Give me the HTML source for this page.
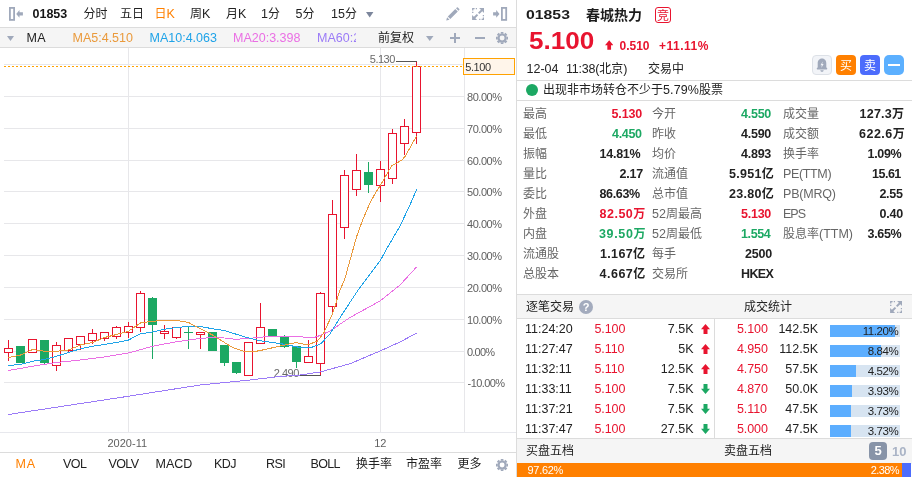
<!DOCTYPE html>
<html lang="zh-CN">
<head>
<meta charset="utf-8">
<title>01853 春城热力</title>
<style>
*{box-sizing:border-box;margin:0;padding:0}
html,body{width:912px;height:477px;overflow:hidden;background:#fff}
body{font-family:"Liberation Sans","Noto Sans CJK SC",sans-serif;font-size:12.5px;color:#333;position:relative}
.a{position:absolute;white-space:nowrap;line-height:1;display:block}
i{font-style:normal}
#left{position:absolute;left:0;top:0;width:517px;height:477px;border-right:1px solid #dcdcdc;overflow:hidden}
#right{position:absolute;left:517px;top:0;width:395px;height:477px;overflow:hidden}
.tb{position:absolute;left:0;top:27px;width:516px;height:21px;background:#f5f5f5;border-top:1px solid #dcdcdc;border-bottom:1px solid #dcdcdc}
.dt{position:absolute;left:0;top:432px;width:516px;height:21px;border-top:1px solid #e7e8ed;border-bottom:1px solid #dcdcdc}
svg text{font-family:"Liberation Sans","Noto Sans CJK SC",sans-serif}
.red{color:#e8142f}
.grn{color:#1ca863}
.b{font-weight:bold}
.c{font-size:12px;letter-spacing:0}
.k{color:#666}
.v{font-weight:bold;color:#222}
.v.red{color:#e8142f}
.v.grn{color:#1ca863}
.hl{position:absolute;left:0;width:395px;height:1px;background:#dcdcdc}
</style>
</head>
<body>
<div id="left">
<svg class="a" style="left:9px;top:7px" width="15" height="14" viewBox="0 0 15 14"><rect x="0.9" y="0.9" width="4.2" height="12" fill="none" stroke="#a0a9bb" stroke-width="1.8"/><path d="M7.2 6.9 L10.5 3 V5.3 H13.9 V8.5 H10.5 V10.8 Z" fill="#a0a9bb"/></svg>
<span class="a b" style="left:32.5px;top:7.5px;color:#151515">01853</span>
<span class="a " style="left:83.5px;top:7.5px;color:#222"><span class="c">分时</span></span>
<span class="a " style="left:120px;top:7.5px;color:#222"><span class="c">五日</span></span>
<span class="a " style="left:154.5px;top:7.5px;color:#ff8000"><span class="c">日</span>K</span>
<span class="a " style="left:190px;top:7.5px;color:#222"><span class="c">周</span>K</span>
<span class="a " style="left:226px;top:7.5px;color:#222"><span class="c">月</span>K</span>
<span class="a " style="left:261px;top:7.5px;color:#222">1<span class="c">分</span></span>
<span class="a " style="left:295.5px;top:7.5px;color:#222">5<span class="c">分</span></span>
<span class="a " style="left:331px;top:7.5px;color:#222">15<span class="c">分</span></span>
<svg class="a" style="left:366px;top:11.5px" width="8" height="6" viewBox="0 0 8 6"><path d="M0 0 H7.4 L3.7 5.6 Z" fill="#7c869c"/></svg>
<svg class="a" style="left:446px;top:7px" width="14" height="14" viewBox="0 0 14 14"><path d="M0.2 13.6 L1.1 10.3 L3.5 12.7 Z M1.8 9.5 L9.3 2 L11.8 4.5 L4.3 12 Z M10 1.3 L10.9 0.4 Q11.4 0 11.9 0.5 L13.3 1.9 Q13.7 2.4 13.3 2.9 L12.4 3.8 Z" fill="#a0a9bb"/></svg>
<svg class="a" style="left:472px;top:8px" width="12.2" height="12" viewBox="0 0 12 12"><g fill="none" stroke="#a0a9bb" stroke-width="1.3"><path d="M0.65 4.9 V3.7 M0.65 2.5 V0.65 H2.5 M3.7 0.65 H4.9"/><path d="M11.35 7.1 V8.3 M11.35 9.5 V11.35 H9.5 M8.3 11.35 H7.1"/></g><path d="M7 0 H12 V5 Z M5 12 H0 V7 Z" fill="#a0a9bb"/><path d="M10 2 L6.6 5.4 M2 10 L5.4 6.6" stroke="#a0a9bb" stroke-width="2" fill="none"/></svg>
<svg class="a" style="left:493px;top:7px" width="15" height="14" viewBox="0 0 15 14"><rect x="8.9" y="0.9" width="4.3" height="12" fill="none" stroke="#a0a9bb" stroke-width="1.8"/><path d="M6.5 6.9 L3.2 3 V5.3 H0.1 V8.5 H3.2 V10.8 Z" fill="#a0a9bb"/></svg>
<div class="tb"></div>
<svg class="a" style="left:6.5px;top:35.5px" width="8" height="6" viewBox="0 0 8 6"><path d="M0 0 H7 L3.5 5 Z" fill="#a0a9bb"/></svg>
<span class="a " style="left:26.5px;top:31.5px;color:#222;letter-spacing:0.3px">MA</span>
<span class="a " style="left:72.5px;top:31.5px;color:#ea9a3c">MA5:4.510</span>
<span class="a " style="left:149.5px;top:31.5px;color:#1fa3e8">MA10:4.063</span>
<span class="a " style="left:233px;top:31.5px;color:#ea6fe4">MA20:3.398</span>
<span class="a " style="left:317px;top:31.5px;color:#9b7bf7;width:38.7px;overflow:hidden;height:14px">MA60:2.846</span>
<span class="a " style="left:378px;top:31.5px;color:#222"><span class="c">前复权</span></span>
<svg class="a" style="left:425.5px;top:35.5px" width="8" height="6" viewBox="0 0 8 6"><path d="M0 0 H7.5 L3.75 5 Z" fill="#a0a9bb"/></svg>
<svg class="a" style="left:450px;top:33px" width="10" height="10" viewBox="0 0 10 10"><path d="M0 5 H10 M5 0 V10" stroke="#a0a9bb" stroke-width="2" fill="none"/></svg>
<svg class="a" style="left:475px;top:33px" width="10" height="10" viewBox="0 0 10 10"><path d="M0 5 H10" stroke="#a0a9bb" stroke-width="2" fill="none"/></svg>
<svg class="a" style="left:496px;top:32px" width="12.2" height="12.2" viewBox="0 0 14 14"><circle cx="7" cy="7" r="4.1" fill="none" stroke="#a0a9bb" stroke-width="2.5"/><g stroke="#a0a9bb" stroke-width="3"><path d="M7 0 V2 M7 12 V14 M0 7 H2 M12 7 H14 M2.05 2.05 L3.5 3.5 M10.5 10.5 L11.95 11.95 M2.05 11.95 L3.5 10.5 M10.5 3.5 L11.95 2.05"/></g></svg>
<svg width="516" height="386" viewBox="0 47 516 386" style="position:absolute;left:0;top:47px">
<g stroke="#e7e7ea" shape-rendering="crispEdges">
<line x1="4" x2="464" y1="64.5" y2="64.5"/>
<line x1="4" x2="464" y1="96.5" y2="96.5"/>
<line x1="4" x2="464" y1="128.5" y2="128.5"/>
<line x1="4" x2="464" y1="160.5" y2="160.5"/>
<line x1="4" x2="464" y1="191.5" y2="191.5"/>
<line x1="4" x2="464" y1="223.5" y2="223.5"/>
<line x1="4" x2="464" y1="255.5" y2="255.5"/>
<line x1="4" x2="464" y1="287.5" y2="287.5"/>
<line x1="4" x2="464" y1="319.5" y2="319.5"/>
<line x1="4" x2="464" y1="351.5" y2="351.5"/>
<line x1="4" x2="464" y1="382.5" y2="382.5"/>
<line x1="128.5" x2="128.5" y1="48" y2="432"/>
<line x1="380.5" x2="380.5" y1="48" y2="432"/>
<line x1="464.5" x2="464.5" y1="48" y2="432"/>
</g>
<g shape-rendering="crispEdges">
<line x1="8.5" x2="8.5" y1="340" y2="348.5" stroke="#e8142f"/>
<line x1="8.5" x2="8.5" y1="352.5" y2="361" stroke="#e8142f"/>
<rect x="4.5" y="348.5" width="8" height="4" fill="#fff" stroke="#e8142f"/>
<line x1="20.5" x2="20.5" y1="346" y2="363" stroke="#1ca863"/>
<rect x="16" y="346" width="9" height="17" fill="#1ca863"/>
<rect x="28.5" y="339.5" width="8" height="13" fill="#fff" stroke="#e8142f"/>
<line x1="44.5" x2="44.5" y1="340" y2="364" stroke="#1ca863"/>
<rect x="40" y="340" width="9" height="23" fill="#1ca863"/>
<line x1="56.5" x2="56.5" y1="342" y2="345.5" stroke="#e8142f"/>
<line x1="56.5" x2="56.5" y1="365.5" y2="371" stroke="#e8142f"/>
<rect x="52.5" y="345.5" width="8" height="20" fill="#fff" stroke="#e8142f"/>
<line x1="68.5" x2="68.5" y1="350.5" y2="352" stroke="#e8142f"/>
<rect x="64.5" y="338.5" width="8" height="12" fill="#fff" stroke="#e8142f"/>
<line x1="80.5" x2="80.5" y1="344.5" y2="350" stroke="#e8142f"/>
<rect x="76.5" y="336.5" width="8" height="8" fill="#fff" stroke="#e8142f"/>
<line x1="92.5" x2="92.5" y1="329" y2="333.5" stroke="#e8142f"/>
<line x1="92.5" x2="92.5" y1="340.5" y2="344" stroke="#e8142f"/>
<rect x="88.5" y="333.5" width="8" height="7" fill="#fff" stroke="#e8142f"/>
<line x1="104.5" x2="104.5" y1="338.5" y2="341" stroke="#e8142f"/>
<rect x="100.5" y="332.5" width="8" height="6" fill="#fff" stroke="#e8142f"/>
<line x1="116.5" x2="116.5" y1="326" y2="327.5" stroke="#e8142f"/>
<line x1="116.5" x2="116.5" y1="336.5" y2="339" stroke="#e8142f"/>
<rect x="112.5" y="327.5" width="8" height="9" fill="#fff" stroke="#e8142f"/>
<line x1="128.5" x2="128.5" y1="322" y2="326.5" stroke="#e8142f"/>
<line x1="128.5" x2="128.5" y1="332.5" y2="338" stroke="#e8142f"/>
<rect x="124.5" y="326.5" width="8" height="6" fill="#fff" stroke="#e8142f"/>
<line x1="140.5" x2="140.5" y1="291" y2="293.5" stroke="#e8142f"/>
<line x1="140.5" x2="140.5" y1="327.5" y2="332" stroke="#e8142f"/>
<rect x="136.5" y="293.5" width="8" height="34" fill="#fff" stroke="#e8142f"/>
<line x1="152.5" x2="152.5" y1="297" y2="359" stroke="#1ca863"/>
<rect x="148" y="298" width="9" height="27" fill="#1ca863"/>
<line x1="164.5" x2="164.5" y1="325" y2="331.5" stroke="#e8142f"/>
<line x1="164.5" x2="164.5" y1="333.5" y2="339" stroke="#e8142f"/>
<rect x="160.5" y="331.5" width="8" height="2" fill="#fff" stroke="#e8142f"/>
<line x1="176.5" x2="176.5" y1="337.5" y2="339" stroke="#e8142f"/>
<rect x="172.5" y="327.5" width="8" height="10" fill="#fff" stroke="#e8142f"/>
<line x1="188.5" x2="188.5" y1="326" y2="349" stroke="#1ca863"/>
<line x1="184" x2="193" y1="332.5" y2="332.5" stroke="#1ca863"/>
<line x1="200.5" x2="200.5" y1="334.5" y2="349" stroke="#e8142f"/>
<rect x="196.5" y="332.5" width="8" height="2" fill="#fff" stroke="#e8142f"/>
<line x1="212.5" x2="212.5" y1="332" y2="351" stroke="#1ca863"/>
<rect x="208" y="332" width="9" height="19" fill="#1ca863"/>
<line x1="224.5" x2="224.5" y1="345" y2="366" stroke="#1ca863"/>
<rect x="220" y="345" width="9" height="18" fill="#1ca863"/>
<line x1="236.5" x2="236.5" y1="362" y2="374" stroke="#1ca863"/>
<rect x="232" y="362" width="9" height="11" fill="#1ca863"/>
<rect x="244.5" y="342.5" width="8" height="33" fill="#fff" stroke="#e8142f"/>
<line x1="260.5" x2="260.5" y1="303" y2="327.5" stroke="#e8142f"/>
<rect x="256.5" y="327.5" width="8" height="16" fill="#fff" stroke="#e8142f"/>
<line x1="272.5" x2="272.5" y1="329" y2="336" stroke="#1ca863"/>
<rect x="268" y="329" width="9" height="7" fill="#1ca863"/>
<line x1="284.5" x2="284.5" y1="335" y2="348" stroke="#1ca863"/>
<rect x="280" y="337" width="9" height="10" fill="#1ca863"/>
<line x1="296.5" x2="296.5" y1="346" y2="368" stroke="#1ca863"/>
<rect x="292" y="346" width="9" height="16" fill="#1ca863"/>
<line x1="308.5" x2="308.5" y1="340" y2="356.5" stroke="#e8142f"/>
<rect x="304.5" y="356.5" width="8" height="6" fill="#fff" stroke="#e8142f"/>
<line x1="320.5" x2="320.5" y1="292" y2="293.5" stroke="#e8142f"/>
<line x1="320.5" x2="320.5" y1="363.5" y2="376" stroke="#e8142f"/>
<rect x="316.5" y="293.5" width="8" height="70" fill="#fff" stroke="#e8142f"/>
<line x1="332.5" x2="332.5" y1="200" y2="214.5" stroke="#e8142f"/>
<line x1="332.5" x2="332.5" y1="306.5" y2="314" stroke="#e8142f"/>
<rect x="328.5" y="214.5" width="8" height="92" fill="#fff" stroke="#e8142f"/>
<line x1="344.5" x2="344.5" y1="170" y2="175.5" stroke="#e8142f"/>
<line x1="344.5" x2="344.5" y1="227.5" y2="239" stroke="#e8142f"/>
<rect x="340.5" y="175.5" width="8" height="52" fill="#fff" stroke="#e8142f"/>
<line x1="356.5" x2="356.5" y1="154" y2="170.5" stroke="#e8142f"/>
<line x1="356.5" x2="356.5" y1="189.5" y2="196" stroke="#e8142f"/>
<rect x="352.5" y="170.5" width="8" height="19" fill="#fff" stroke="#e8142f"/>
<line x1="368.5" x2="368.5" y1="162" y2="193" stroke="#1ca863"/>
<rect x="364" y="172" width="9" height="13" fill="#1ca863"/>
<line x1="380.5" x2="380.5" y1="161" y2="169.5" stroke="#e8142f"/>
<line x1="380.5" x2="380.5" y1="185.5" y2="202" stroke="#e8142f"/>
<rect x="376.5" y="169.5" width="8" height="16" fill="#fff" stroke="#e8142f"/>
<line x1="392.5" x2="392.5" y1="129" y2="133.5" stroke="#e8142f"/>
<line x1="392.5" x2="392.5" y1="178.5" y2="184" stroke="#e8142f"/>
<rect x="388.5" y="133.5" width="8" height="45" fill="#fff" stroke="#e8142f"/>
<line x1="404.5" x2="404.5" y1="119" y2="126.5" stroke="#e8142f"/>
<line x1="404.5" x2="404.5" y1="143.5" y2="155" stroke="#e8142f"/>
<rect x="400.5" y="126.5" width="8" height="17" fill="#fff" stroke="#e8142f"/>
<line x1="416.5" x2="416.5" y1="62" y2="66.5" stroke="#e8142f"/>
<line x1="416.5" x2="416.5" y1="132.5" y2="144" stroke="#e8142f"/>
<rect x="412.5" y="66.5" width="8" height="66" fill="#fff" stroke="#e8142f"/>
</g>
<polyline fill="none" stroke="#555" points="396,61.5 417,61.5" shape-rendering="crispEdges"/>
<text x="394.8" y="63.3" text-anchor="end" font-size="11" fill="#6a6a6a" letter-spacing="-0.5">5.130</text>
<polyline fill="none" stroke="#555" points="300,375.5 321,375.5" shape-rendering="crispEdges"/>
<text x="298.8" y="376.8" text-anchor="end" font-size="11" fill="#6a6a6a" letter-spacing="-0.5">2.490</text>
<polyline fill="none" stroke="#9b7bf7" stroke-width="1" stroke-linejoin="round" shape-rendering="crispEdges" points="8.5,414.5 128.5,396.25 200,385 250,380 275,377 300,375 320,372 350,363.75 380,351 400,342 416.5,333.2"/>
<polyline fill="none" stroke="#ea6fe4" stroke-width="1" stroke-linejoin="round" shape-rendering="crispEdges" points="8.5,370.5 32.5,366.25 56.5,362.5 80.5,360 104.5,357 128.5,353 152.5,346.25 176.5,341.75 200.5,338.3 212.5,337.7 224.5,338 236,339.3 244,338.7 252,338.1 260,337.3 267,336.6 287,336.6 301,336.6 306.5,337.8 314,337.5 320,335.5 330,331 350,317.5 380,301 400,285 416.5,267"/>
<polyline fill="none" stroke="#1fa3e8" stroke-width="1" stroke-linejoin="round" shape-rendering="crispEdges" points="8.5,365.5 20.5,364.5 32.5,361.25 44.5,359.5 56.5,356.25 68.5,352.5 80.5,348.75 92.5,346.25 104.5,344.5 116.5,342.5 128.5,340 140.5,333.75 152.5,332 164.5,329.25 176.5,327.5 188.5,326.5 200.5,326.5 212.5,328.75 224.5,330.5 245,337 260,340.75 282.5,344 300,347.5 310,348 321,343.75 330,333.75 342.5,313.75 357.5,291 367.5,277.5 380,261 387.5,247.5 400,226 410,205 416.5,189.5"/>
<polyline fill="none" stroke="#ea9a3c" stroke-width="1" stroke-linejoin="round" shape-rendering="crispEdges" points="8.5,357.5 20.5,355 32.5,349.5 44.5,351.25 56.5,351.25 68.5,350 80.5,345 92.5,342.5 104.5,337.5 116.5,334.5 128.5,331.25 140.5,323 152.5,321.25 164.5,320.5 176.5,320.5 188.5,322.5 200.5,328.75 212.5,335 224.5,342.5 232.5,347.5 242.5,351 252.5,352 265,349.5 282.5,345.5 296,342.5 307.5,345 317.5,341 324,332.5 332.5,313.75 340,290 344.5,280 356.5,237 362.5,220.5 368.5,206.3 374.5,194.5 380.5,185 388.3,171.5 392,165.4 397.2,162.8 402.5,159.5 405.8,155.5 411.1,145.6 416.5,136.3"/>
<line x1="4" x2="464" y1="66.5" y2="66.5" stroke="#ffa200" stroke-dasharray="2 2" shape-rendering="crispEdges"/>
<text x="467" y="100.5" font-size="11" fill="#606060" letter-spacing="-0.45">80.00%</text>
<text x="467" y="132.5" font-size="11" fill="#606060" letter-spacing="-0.45">70.00%</text>
<text x="467" y="164.5" font-size="11" fill="#606060" letter-spacing="-0.45">60.00%</text>
<text x="467" y="195.5" font-size="11" fill="#606060" letter-spacing="-0.45">50.00%</text>
<text x="467" y="227.5" font-size="11" fill="#606060" letter-spacing="-0.45">40.00%</text>
<text x="467" y="259.5" font-size="11" fill="#606060" letter-spacing="-0.45">30.00%</text>
<text x="467" y="291.5" font-size="11" fill="#606060" letter-spacing="-0.45">20.00%</text>
<text x="467" y="323.5" font-size="11" fill="#606060" letter-spacing="-0.45">10.00%</text>
<text x="467" y="355.5" font-size="11" fill="#606060" letter-spacing="-0.8">0.00%</text>
<text x="467.6" y="386.5" font-size="11" fill="#606060" letter-spacing="-0.6">-10.00%</text>
<rect x="463.5" y="58.5" width="51" height="16" fill="#fff5ea" stroke="#ffa200" shape-rendering="crispEdges"/>
<text x="465.3" y="70.8" font-size="11" fill="#333" letter-spacing="-0.45">5.100</text>
</svg>
<div class="dt"></div>
<span class="a " style="left:107.5px;top:437.8px;font-size:11px;color:#5f5f5f">2020-11</span>
<span class="a " style="left:374.2px;top:437.8px;font-size:11px;color:#5f5f5f">12</span>
<span class="a " style="left:15.5px;top:457.5px;color:#ff8000;letter-spacing:0.8px">MA</span>
<span class="a " style="left:63px;top:457.5px;color:#222;letter-spacing:-0.5px">VOL</span>
<span class="a " style="left:108.5px;top:457.5px;color:#222;letter-spacing:-0.6px">VOLV</span>
<span class="a " style="left:155.5px;top:457.5px;color:#222">MACD</span>
<span class="a " style="left:214px;top:457.5px;color:#222;letter-spacing:-0.6px">KDJ</span>
<span class="a " style="left:266px;top:457.5px;color:#222;letter-spacing:-0.6px">RSI</span>
<span class="a " style="left:310.5px;top:457.5px;color:#222;letter-spacing:-0.7px">BOLL</span>
<span class="a " style="left:356px;top:457.5px;color:#222"><span class="c">换手率</span></span>
<span class="a " style="left:406px;top:457.5px;color:#222"><span class="c">市盈率</span></span>
<span class="a " style="left:457.5px;top:457.5px;color:#222"><span class="c">更多</span></span>
<svg class="a" style="left:496px;top:459px" width="12.2" height="12.2" viewBox="0 0 14 14"><circle cx="7" cy="7" r="4.1" fill="none" stroke="#a0a9bb" stroke-width="2.5"/><g stroke="#a0a9bb" stroke-width="3"><path d="M7 0 V2 M7 12 V14 M0 7 H2 M12 7 H14 M2.05 2.05 L3.5 3.5 M10.5 10.5 L11.95 11.95 M2.05 11.95 L3.5 10.5 M10.5 3.5 L11.95 2.05"/></g></svg>
</div>
<div id="right">
<span class="a b" style="left:9px;top:8px;font-size:13.5px;color:#1c1c1c;transform:scaleX(1.17);transform-origin:0 0">01853</span>
<span class="a " style="left:69px;top:7.5px;font-size:14px;color:#1c1c1c;font-weight:700"><span style="font-size:14px;letter-spacing:0">春城热力</span></span>
<span class="a" style="left:138px;top:7px;width:16px;height:16px;border:1px solid #e8142f;border-radius:3px;color:#e8142f;font-size:12px;line-height:16.5px;text-align:center">竞</span>
<span class="a b" style="left:12px;top:29.5px;font-size:23.3px;color:#e8142f;transform:scaleX(1.12);transform-origin:0 0">5.100</span>
<svg class="a" style="left:88px;top:39.5px" width="8.4" height="10" viewBox="0 0 9 10"><path d="M4.5 0 L9 5.2 H6.5 V10 H2.5 V5.2 H0 Z" fill="#e8142f"/></svg>
<span class="a b" style="left:102.5px;top:39.5px;font-size:12px;color:#e8142f">0.510</span>
<span class="a b" style="left:142px;top:39.5px;font-size:12px;color:#e8142f;letter-spacing:0.5px">+11.11%</span>
<span class="a " style="left:9.5px;top:62.5px;color:#222">12-04</span>
<span class="a " style="left:49px;top:62.5px;color:#222;letter-spacing:-0.2px">11:38(<span class="c">北京</span>)</span>
<span class="a " style="left:131px;top:62.5px;color:#222"><span class="c">交易中</span></span>
<span class="a" style="left:295px;top:55px;width:20px;height:20px;border:1px solid #dde1e7;border-radius:4px;background:#f2f4f8"><svg width="18" height="18" viewBox="0 0 18 18" style="display:block"><path d="M9 2.6 C6 2.6 4.7 5 4.7 7.4 V11.2 L3.7 12.6 Q3.5 13.4 4.3 13.4 H13.7 Q14.5 13.4 14.3 12.6 L13.3 11.2 V7.4 C13.3 5 12 2.6 9 2.6 Z M7.3 14.2 H10.7 C10.5 15.3 9.8 15.8 9 15.8 C8.2 15.8 7.5 15.3 7.3 14.2 Z" fill="#a0a9bb"/><path d="M9.7 5.4 L7.5 9.2 H8.9 L8.3 12 L10.6 8 H9.2 Z" fill="#f2f4f8"/></svg></span>
<span class="a" style="left:319px;top:55px;width:20px;height:20px;border-radius:4px;background:#ff8000;color:#fff;font-size:12px;line-height:22px;text-align:center">买</span>
<span class="a" style="left:343px;top:55px;width:20px;height:20px;border-radius:4px;background:#4c6cfc;color:#fff;font-size:12px;line-height:22px;text-align:center">卖</span>
<span class="a" style="left:367px;top:55px;width:20px;height:20px;border-radius:5px;background:#5cb0ff"><i style="position:absolute;left:4px;top:9px;width:12px;height:2px;background:#fff"></i></span>
<div class="hl" style="top:80px"></div>
<span class="a" style="left:9px;top:84px;width:12px;height:12px;border-radius:6px;background:#1ca863"></span>
<span class="a " style="left:26px;top:84px;color:#222;letter-spacing:0.1px"><span class="c">出现非市场转仓不少于</span>5.79%<span class="c">股票</span></span>
<div class="hl" style="top:100px"></div>
<span class="a k" style="left:6px;top:107.5px"><span class="c">最高</span></span>
<span class="a v red" style="left:94.5px;top:108.25px;letter-spacing:-0.12px">5.130</span>
<span class="a k" style="left:135px;top:107.5px"><span class="c">今开</span></span>
<span class="a v grn" style="left:224px;top:108.25px;letter-spacing:-0.25px">4.550</span>
<span class="a k" style="left:266px;top:107.5px"><span class="c">成交量</span></span>
<span class="a v" style="left:342.5px;top:108.25px;letter-spacing:0.25px">127.3<span class="c">万</span></span>
<span class="a k" style="left:6px;top:127.5px"><span class="c">最低</span></span>
<span class="a v grn" style="left:95px;top:128.25px;letter-spacing:-0.31px">4.450</span>
<span class="a k" style="left:135px;top:127.5px"><span class="c">昨收</span></span>
<span class="a v" style="left:224px;top:128.25px;letter-spacing:-0.25px">4.590</span>
<span class="a k" style="left:266px;top:127.5px"><span class="c">成交额</span></span>
<span class="a v" style="left:342px;top:128.25px;letter-spacing:0.5px">622.6<span class="c">万</span></span>
<span class="a k" style="left:6px;top:147.5px"><span class="c">振幅</span></span>
<span class="a v" style="left:82.5px;top:148.25px;letter-spacing:-0.25px">14.81%</span>
<span class="a k" style="left:135px;top:147.5px"><span class="c">均价</span></span>
<span class="a v" style="left:224px;top:148.25px;letter-spacing:-0.25px">4.893</span>
<span class="a k" style="left:266px;top:147.5px"><span class="c">换手率</span></span>
<span class="a v" style="left:350.5px;top:148.25px;letter-spacing:-0.31px">1.09%</span>
<span class="a k" style="left:6px;top:167.5px"><span class="c">量比</span></span>
<span class="a v" style="left:102.5px;top:168.25px;letter-spacing:-0.25px">2.17</span>
<span class="a k" style="left:135px;top:167.5px"><span class="c">流通值</span></span>
<span class="a v" style="left:212px;top:168.25px;letter-spacing:0.3px">5.951<span class="c">亿</span></span>
<span class="a k" style="left:266px;top:167.5px;letter-spacing:-0.35px">PE(TTM)</span>
<span class="a v" style="left:355px;top:168.25px;letter-spacing:-0.5px">15.61</span>
<span class="a k" style="left:6px;top:187.5px"><span class="c">委比</span></span>
<span class="a v" style="left:82.5px;top:188.25px;letter-spacing:-0.35px">86.63%</span>
<span class="a k" style="left:135px;top:187.5px"><span class="c">总市值</span></span>
<span class="a v" style="left:212px;top:188.25px;letter-spacing:0.3px">23.80<span class="c">亿</span></span>
<span class="a k" style="left:266px;top:187.5px;letter-spacing:-0.2px">PB(MRQ)</span>
<span class="a v" style="left:362.5px;top:188.25px;letter-spacing:-0.33px">2.55</span>
<span class="a k" style="left:6px;top:207.5px"><span class="c">外盘</span></span>
<span class="a v red" style="left:82.5px;top:208.25px;letter-spacing:0.5px">82.50<span class="c">万</span></span>
<span class="a k" style="left:135px;top:207.5px">52<span class="c">周最高</span></span>
<span class="a v red" style="left:224px;top:208.25px;letter-spacing:-0.25px">5.130</span>
<span class="a k" style="left:266px;top:207.5px;letter-spacing:-1px">EPS</span>
<span class="a v" style="left:362.5px;top:208.25px;letter-spacing:-0.17px">0.40</span>
<span class="a k" style="left:6px;top:227.5px"><span class="c">内盘</span></span>
<span class="a v grn" style="left:82px;top:228.25px;letter-spacing:0.65px">39.50<span class="c">万</span></span>
<span class="a k" style="left:135px;top:227.5px">52<span class="c">周最低</span></span>
<span class="a v grn" style="left:224px;top:228.25px;letter-spacing:-0.38px">1.554</span>
<span class="a k" style="left:266px;top:227.5px"><span class="c">股息率</span>(TTM)</span>
<span class="a v" style="left:350.5px;top:228.25px;letter-spacing:-0.31px">3.65%</span>
<span class="a k" style="left:6px;top:247.5px"><span class="c">流通股</span></span>
<span class="a v" style="left:83px;top:248.25px;letter-spacing:0.35px">1.167<span class="c">亿</span></span>
<span class="a k" style="left:135px;top:247.5px"><span class="c">每手</span></span>
<span class="a v" style="left:228px;top:248.25px;letter-spacing:-0.17px">2500</span>
<span class="a k" style="left:6px;top:267.5px"><span class="c">总股本</span></span>
<span class="a v" style="left:82.5px;top:268.25px;letter-spacing:0.5px">4.667<span class="c">亿</span></span>
<span class="a k" style="left:135px;top:267.5px"><span class="c">交易所</span></span>
<span class="a v" style="left:224px;top:268.25px;letter-spacing:-0.6px">HKEX</span>
<div style="position:absolute;left:0;top:294px;width:395px;height:25px;background:#f5f5f5;border-top:1px solid #dcdcdc;border-bottom:1px solid #dcdcdc"></div>
<span class="a " style="left:9px;top:301px;color:#222"><span class="c">逐笔交易</span></span>
<span class="a b" style="left:62px;top:300px;width:14px;height:14px;border-radius:7px;background:#a3abbd;color:#fff;font-size:11px;line-height:14px;text-align:center">?</span>
<span class="a " style="left:227px;top:301px;color:#222"><span class="c">成交统计</span></span>
<svg class="a" style="left:373px;top:301px" width="12.2" height="12" viewBox="0 0 12 12"><g fill="none" stroke="#a0a9bb" stroke-width="1.3"><path d="M0.65 4.9 V3.7 M0.65 2.5 V0.65 H2.5 M3.7 0.65 H4.9"/><path d="M11.35 7.1 V8.3 M11.35 9.5 V11.35 H9.5 M8.3 11.35 H7.1"/></g><path d="M7 0 H12 V5 Z M5 12 H0 V7 Z" fill="#a0a9bb"/><path d="M10 2 L6.6 5.4 M2 10 L5.4 6.6" stroke="#a0a9bb" stroke-width="2" fill="none"/></svg>
<div style="position:absolute;left:197px;top:319px;width:1px;height:120px;background:#dcdcdc"></div>
<span class="a " style="left:8px;top:323.15px;color:#222">11:24:20</span>
<span class="a " style="left:77.5px;top:323.15px;color:#e8142f;letter-spacing:-0.1px">5.100</span>
<span class="a " style="right:218.5px;top:323.15px;color:#222">7.5K</span>
<svg class="a" style="left:184.2px;top:323.75px" width="9" height="10" viewBox="0 0 9 10"><path d="M4.5 0 L9 5.2 H6.5 V10 H2.5 V5.2 H0 Z" fill="#e8142f"/></svg>
<span class="a " style="left:220px;top:323.15px;color:#e8142f;letter-spacing:-0.1px">5.100</span>
<span class="a " style="right:94px;top:323.15px;color:#222">142.5K</span>
<div style="position:absolute;left:313px;top:325px;width:70px;height:12px;background:#d7e4f1"><div style="width:65px;height:12px;background:#5caeff"></div></div>
<span class="a " style="right:13.8px;top:325.65px;font-size:11.5px;color:#222;letter-spacing:-0.45px">11.20%</span>
<span class="a " style="left:8px;top:343.15px;color:#222">11:27:47</span>
<span class="a " style="left:77.5px;top:343.15px;color:#e8142f;letter-spacing:-0.1px">5.110</span>
<span class="a " style="right:218.5px;top:343.15px;color:#222">5K</span>
<svg class="a" style="left:184.2px;top:343.75px" width="9" height="10" viewBox="0 0 9 10"><path d="M4.5 0 L9 5.2 H6.5 V10 H2.5 V5.2 H0 Z" fill="#e8142f"/></svg>
<span class="a " style="left:220px;top:343.15px;color:#e8142f;letter-spacing:-0.1px">4.950</span>
<span class="a " style="right:94px;top:343.15px;color:#222">112.5K</span>
<div style="position:absolute;left:313px;top:345px;width:70px;height:12px;background:#d7e4f1"><div style="width:51px;height:12px;background:#5caeff"></div></div>
<span class="a " style="right:13.8px;top:345.65px;font-size:11.5px;color:#222;letter-spacing:-0.45px">8.84%</span>
<span class="a " style="left:8px;top:363.15px;color:#222">11:32:11</span>
<span class="a " style="left:77.5px;top:363.15px;color:#e8142f;letter-spacing:-0.1px">5.110</span>
<span class="a " style="right:218.5px;top:363.15px;color:#222">12.5K</span>
<svg class="a" style="left:184.2px;top:363.75px" width="9" height="10" viewBox="0 0 9 10"><path d="M4.5 0 L9 5.2 H6.5 V10 H2.5 V5.2 H0 Z" fill="#e8142f"/></svg>
<span class="a " style="left:220px;top:363.15px;color:#e8142f;letter-spacing:-0.1px">4.750</span>
<span class="a " style="right:94px;top:363.15px;color:#222">57.5K</span>
<div style="position:absolute;left:313px;top:365px;width:70px;height:12px;background:#d7e4f1"><div style="width:26px;height:12px;background:#5caeff"></div></div>
<span class="a " style="right:13.8px;top:365.65px;font-size:11.5px;color:#222;letter-spacing:-0.45px">4.52%</span>
<span class="a " style="left:8px;top:383.15px;color:#222">11:33:11</span>
<span class="a " style="left:77.5px;top:383.15px;color:#e8142f;letter-spacing:-0.1px">5.100</span>
<span class="a " style="right:218.5px;top:383.15px;color:#222">7.5K</span>
<svg class="a" style="left:184.2px;top:383.75px" width="9" height="10" viewBox="0 0 9 10"><path d="M4.5 10 L9 4.8 H6.5 V0 H2.5 V4.8 H0 Z" fill="#1ca863"/></svg>
<span class="a " style="left:220px;top:383.15px;color:#e8142f;letter-spacing:-0.1px">4.870</span>
<span class="a " style="right:94px;top:383.15px;color:#222">50.0K</span>
<div style="position:absolute;left:313px;top:385px;width:70px;height:12px;background:#d7e4f1"><div style="width:22px;height:12px;background:#5caeff"></div></div>
<span class="a " style="right:13.8px;top:385.65px;font-size:11.5px;color:#222;letter-spacing:-0.45px">3.93%</span>
<span class="a " style="left:8px;top:403.15px;color:#222">11:37:21</span>
<span class="a " style="left:77.5px;top:403.15px;color:#e8142f;letter-spacing:-0.1px">5.100</span>
<span class="a " style="right:218.5px;top:403.15px;color:#222">7.5K</span>
<svg class="a" style="left:184.2px;top:403.75px" width="9" height="10" viewBox="0 0 9 10"><path d="M4.5 10 L9 4.8 H6.5 V0 H2.5 V4.8 H0 Z" fill="#1ca863"/></svg>
<span class="a " style="left:220px;top:403.15px;color:#e8142f;letter-spacing:-0.1px">5.110</span>
<span class="a " style="right:94px;top:403.15px;color:#222">47.5K</span>
<div style="position:absolute;left:313px;top:405px;width:70px;height:12px;background:#d7e4f1"><div style="width:21px;height:12px;background:#5caeff"></div></div>
<span class="a " style="right:13.8px;top:405.65px;font-size:11.5px;color:#222;letter-spacing:-0.45px">3.73%</span>
<span class="a " style="left:8px;top:423.15px;color:#222">11:37:47</span>
<span class="a " style="left:77.5px;top:423.15px;color:#e8142f;letter-spacing:-0.1px">5.100</span>
<span class="a " style="right:218.5px;top:423.15px;color:#222">27.5K</span>
<svg class="a" style="left:184.2px;top:423.75px" width="9" height="10" viewBox="0 0 9 10"><path d="M4.5 10 L9 4.8 H6.5 V0 H2.5 V4.8 H0 Z" fill="#1ca863"/></svg>
<span class="a " style="left:220px;top:423.15px;color:#e8142f;letter-spacing:-0.1px">5.000</span>
<span class="a " style="right:94px;top:423.15px;color:#222">47.5K</span>
<div style="position:absolute;left:313px;top:425px;width:70px;height:12px;background:#d7e4f1"><div style="width:21px;height:12px;background:#5caeff"></div></div>
<span class="a " style="right:13.8px;top:425.65px;font-size:11.5px;color:#222;letter-spacing:-0.45px">3.73%</span>
<div style="position:absolute;left:0;top:438px;width:395px;height:26px;background:#f5f5f5;border-top:1px solid #dcdcdc"></div>
<span class="a " style="left:9px;top:445px;color:#222"><span class="c">买盘五档</span></span>
<span class="a " style="left:207px;top:445px;color:#222"><span class="c">卖盘五档</span></span>
<span class="a b" style="left:352px;top:442px;width:18px;height:18px;border-radius:4px;background:#8894a8;color:#fff;font-size:13px;line-height:18px;text-align:center">5</span>
<span class="a b" style="left:375px;top:445px;font-size:13px;color:#aab4c6">10</span>
<div style="position:absolute;left:0;top:463px;width:385px;height:14px;background:#ff8000"></div>
<div style="position:absolute;left:385px;top:463px;width:9px;height:14px;background:#4c6cfc"></div>
<span class="a " style="left:10.5px;top:465.3px;font-size:11px;color:#fff;letter-spacing:-0.3px">97.62%</span>
<span class="a " style="right:13px;top:465.3px;font-size:11px;color:#fff;letter-spacing:-0.6px">2.38%</span>
</div>
</body>
</html>
